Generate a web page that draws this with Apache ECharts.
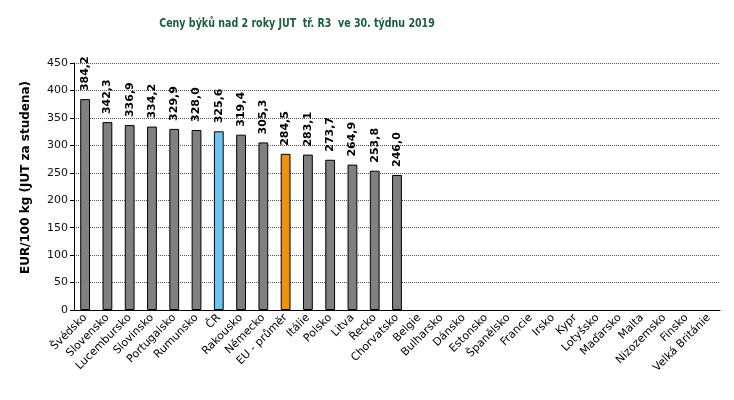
<!DOCTYPE html>
<html><head><meta charset="utf-8">
<script src="https://cdn.jsdelivr.net/npm/echarts@6/dist/echarts.min.js"></script>
<style>html,body{margin:0;padding:0;background:#fff}#c{width:734px;height:400px}</style>
</head><body><div id="c"></div>
<script>
const categories = ["Švédsko","Slovensko","Lucembursko","Slovinsko","Portugalsko","Rumunsko","ČR","Rakousko","Německo","EU - průměr","Itálie","Polsko","Litva","Řecko","Chorvatsko","Belgie","Bulharsko","Dánsko","Estonsko","Španělsko","Francie","Irsko","Kypr","Lotyšsko","Maďarsko","Malta","Nizozemsko","Finsko","Velká Británie"];
const values = [384.2,342.3,336.9,334.2,329.9,328.0,325.6,319.4,305.3,284.5,283.1,273.7,264.9,253.8,246.0,null,null,null,null,null,null,null,null,null,null,null,null,null,null];
const yTicks = [0,50,100,150,200,250,300,350,400,450];
const titleText = "Ceny býků nad 2 roky JUT  tř. R3  ve 30. týdnu 2019";
const yName = "EUR/100 kg (JUT za studena)";
const highlight = {"ČR":"#6cc4ec","EU - průměr":"#ef930e"};

const labelCfg = {show:true,position:'top',rotate:90,align:'left',verticalAlign:'middle',distance:8,
  fontFamily:'DejaVu Sans',fontSize:11,fontWeight:'bold',color:'#000',
  formatter:p=>p.value==null?'':p.value.toFixed(1).replace('.',',')};

const chart = echarts.init(document.getElementById('c'), null, {renderer:'canvas'});
chart.setOption({
  animation:false,
  graphic:[{type:'text',x:297,y:24,scaleX:0.88,scaleY:1.05,
    style:{text:titleText,x:0,y:0,align:'center',verticalAlign:'middle',
      font:'bold 12px "DejaVu Sans Condensed", "DejaVu Sans"',fill:'#1b5e3b'}}],
  grid:{left:74,right:14,top:63,bottom:90,containLabel:false},
  xAxis:{type:'category',data:categories,
    axisLine:{lineStyle:{color:'#000'}},
    axisTick:{alignWithLabel:false,lineStyle:{color:'#000'},length:4},
    axisLabel:{rotate:45,interval:0,fontFamily:'DejaVu Sans',fontSize:11,color:'#000',margin:6}},
  yAxis:{type:'value',min:yTicks[0],max:yTicks[yTicks.length-1],interval:50,
    name:yName,nameLocation:'middle',nameGap:42,
    nameTextStyle:{fontFamily:'DejaVu Sans',fontSize:12,fontWeight:'bold',color:'#000',padding:[0,0,0,18]},
    axisLine:{show:true,lineStyle:{color:'#000'}},
    axisTick:{show:true,length:4,lineStyle:{color:'#000'}},
    axisLabel:{fontFamily:'DejaVu Sans',fontSize:11,color:'#111',margin:6},
    splitLine:{lineStyle:{color:'#555',type:[1,1],width:1}}},
  series:[{type:'bar',barWidth:'44%',
    data:values.map((v,i)=>({value:v,itemStyle:{color:highlight[categories[i]]||'#808080'},label:Object.assign({},labelCfg)})),
    itemStyle:{borderColor:'#000',borderWidth:1},
    label:labelCfg}]
});
</script></body></html>
